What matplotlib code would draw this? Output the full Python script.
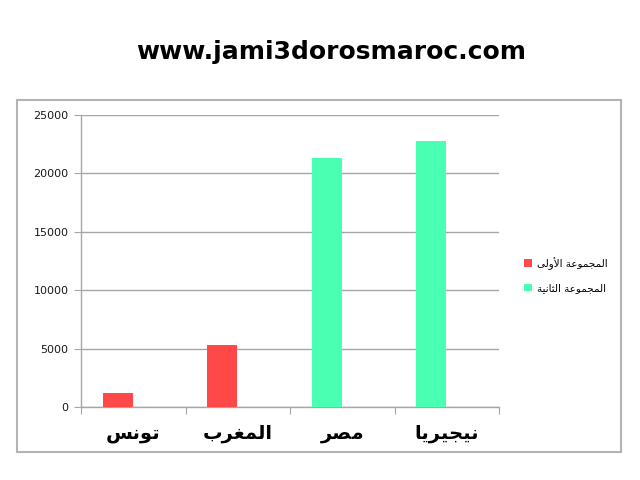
import matplotlib
matplotlib.use('Agg')
import matplotlib.pyplot as plt
from matplotlib.patches import Rectangle, Patch
import numpy as np

# Arabic labels, written with presentation forms in visual order (matplotlib does no shaping)
categories = ['\uFEB2\uFEE7\uFEEE\uFE97',                      # تونس
              '\uFE8F\uFEAE\uFED0\uFEE4\uFEDF\uFE8D',          # المغرب
              '\uFEAE\uFEBC\uFEE3',                            # مصر
              '\uFE8E\uFEF3\uFEAE\uFEF4\uFEA0\uFEF4\uFEE7']    # نيجيريا
series_names = ['\uFEF0\uFEDF\uFEED\uFEF7\uFE8D \uFE94\uFECB\uFEEE\uFEE4\uFEA0\uFEE4\uFEDF\uFE8D',   # المجموعة الأولى
                '\uFE94\uFEF4\uFEE7\uFE8E\uFE9C\uFEDF\uFE8D \uFE94\uFECB\uFEEE\uFEE4\uFEA0\uFEE4\uFEDF\uFE8D']  # المجموعة الثانية
group1 = [1200, 5300, 0, 0]
group2 = [0, 0, 21300, 22750]
yticks = [0, 5000, 10000, 15000, 20000, 25000]

red = '#ff4848'
green = '#48ffb2'
grid_col = '#a6a6a6'

fig = plt.figure(figsize=(6.4, 4.8), dpi=100)
fig.patch.set_facecolor('white')

# outer chart border
fig.patches.append(Rectangle((17/640, 1-452/480), 604/640, 352/480, transform=fig.transFigure,
                             fill=False, edgecolor='#b4b4b4', linewidth=1.5))

fig.text(0.518, 1-52/480, 'www.jami3dorosmaroc.com', ha='center', va='center',
         fontsize=18, fontweight='bold', color='black')

ax = fig.add_axes([81/640, 1-407/480, 418/640, 292/480])
x = np.arange(len(categories))
w = 0.287
off = -0.5 + 0.21
ax.bar(x + off, group1, width=w, align='edge', color=red, linewidth=0, zorder=3)
ax.bar(x + off, group2, width=w, align='edge', color=green, linewidth=0, zorder=3)

ax.set_xlim(-0.5, len(categories) - 0.5)
ax.set_ylim(0, 25000)
ax.set_yticks(yticks)
ax.set_yticklabels([str(v) for v in yticks], fontsize=8, color='#1a1a1a')
ax.yaxis.grid(True, color=grid_col, linewidth=1, zorder=0)
ax.tick_params(axis='y', length=5, color=grid_col, pad=4)

ax.set_xticks(np.arange(-0.5, len(categories), 1.0))
ax.set_xticklabels([])
ax.set_xticks(x, minor=True)
ax.set_xticklabels(categories, minor=True, fontsize=14, fontweight='bold')
ax.tick_params(axis='x', which='major', length=5, color=grid_col, direction='out')
ax.tick_params(axis='x', which='minor', length=0, pad=12)

for s in ['top', 'right']:
    ax.spines[s].set_visible(False)
for s in ['left', 'bottom']:
    ax.spines[s].set_color(grid_col)
    ax.spines[s].set_linewidth(1)

handles = [Patch(facecolor=red), Patch(facecolor=green)]
fig.legend(handles, series_names, loc='center left', bbox_to_anchor=(515/640, 1-275/480),
           frameon=False, fontsize=7.5, handlelength=0.7, handleheight=0.7,
           handletextpad=0.5, labelspacing=1.3)

fig.savefig('out.png', dpi=100, facecolor='white')
